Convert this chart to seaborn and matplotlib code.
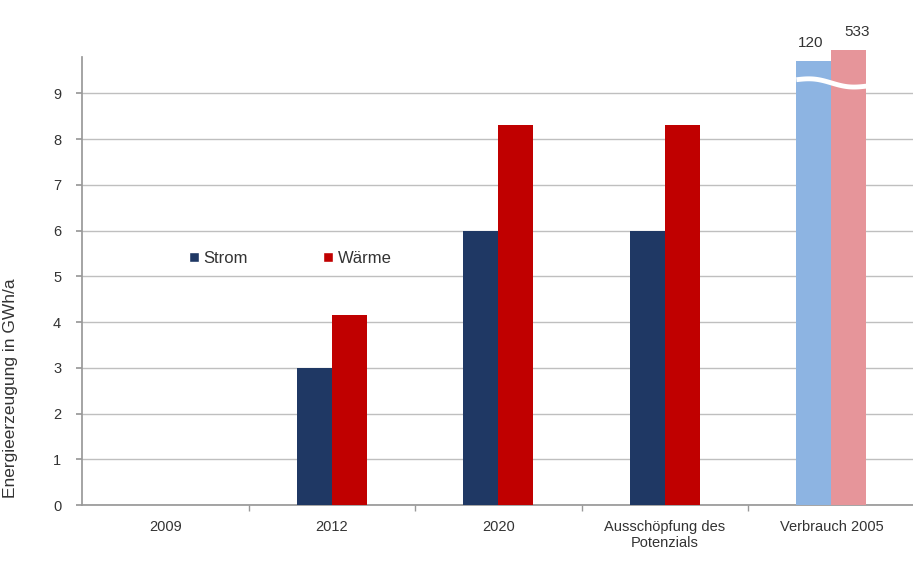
import numpy as np
import pandas as pd
import matplotlib
matplotlib.use("Agg")
import matplotlib.pyplot as plt
import seaborn as sns

categories = ["2009", "2012", "2020", "Ausschöpfung des\nPotenzials", "Verbrauch 2005"]
strom = [0.0, 3.0, 6.0, 6.0, 120.0]
waerme = [0.0, 4.15, 8.3, 8.3, 533.0]
# drawn height for the broken (off-scale) bars of the last category
broken_top_strom = 9.7
broken_top_waerme = 9.95
series = ["Strom", "Wärme"]
yticks = list(range(0, 10))

sns.set_theme(style="white")
plt.rcParams["font.family"] = ["Liberation Sans", "DejaVu Sans"]

def shown(v, cap):
    return v if v < 10 else cap

rows = []
for c, s, w in zip(categories, strom, waerme):
    rows.append({"cat": c, "serie": "Strom", "val": shown(s, broken_top_strom)})
    rows.append({"cat": c, "serie": "Wärme", "val": shown(w, broken_top_waerme)})
df = pd.DataFrame(rows)

fig = plt.figure(figsize=(9.13, 5.63), dpi=100)
ax = fig.add_axes([0.0898, 0.103, 0.912, 0.796])

sns.barplot(data=df, x="cat", y="val", hue="serie", order=categories,
            hue_order=series, palette=["#1F3864", "#C00000"], width=0.42,
            saturation=1, ax=ax, zorder=3)

# recolour off-scale bars of last category and disable clipping
light = {0: "#8DB4E2", 1: "#E6959A"}
for i, cont in enumerate(ax.containers):
    for j, p in enumerate(cont.patches):
        p.set_clip_on(False)
        p.set_edgecolor("none")
        if j == len(categories) - 1:
            p.set_facecolor(light[i])

# white wavy break through last bars
last_s = ax.containers[0].patches[-1]
last_w = ax.containers[1].patches[-1]
x0 = last_s.get_x()
x1 = last_w.get_x() + last_w.get_width()
xs = np.linspace(x0, x1, 60)
t = (xs - x0) / (x1 - x0)
ys = 9.30 - 0.14 * t + 0.05 * np.sin(2 * np.pi * t)
ax.plot(xs, ys, color="white", lw=3.5, zorder=4, clip_on=False, solid_capstyle="butt")

# value labels above the broken bars
ax.text(last_s.get_x() + last_s.get_width() / 2 - 0.02, broken_top_strom + 0.25,
        f"{strom[-1]:.0f}", ha="center", va="bottom", fontsize=11, color="#333333")
ax.text(last_w.get_x() + last_w.get_width() / 2 + 0.05, broken_top_waerme + 0.25,
        f"{waerme[-1]:.0f}", ha="center", va="bottom", fontsize=11, color="#333333")

ax.set_ylim(0, 9.8)
ax.set_xlim(-0.5, len(categories) - 0.5)
ax.set_yticks(yticks)
ax.set_yticklabels([str(v) for v in yticks], fontsize=10.5, color="#333333")
ax.yaxis.grid(True, color="#BFBFBF", lw=1, zorder=0)
ax.set_axisbelow(True)

ax.set_xticks(range(len(categories)))
ax.set_xticklabels(categories, fontsize=10.5, color="#333333")
ax.tick_params(axis="x", length=0, pad=11)
ax.tick_params(axis="y", length=4, color="#999999", left=True, pad=11)
# minor ticks at category boundaries
ax.set_xticks(np.arange(0.5, len(categories) - 0.5, 1.0), minor=True)
ax.tick_params(axis="x", which="minor", length=4, color="#999999", bottom=True)

ax.set_xlabel("")
ax.set_ylabel("Energieerzeugung in GWh/a", fontsize=12.5, color="#333333")
ax.yaxis.set_label_coords(-0.077, 0.26)

for side in ["top", "right"]:
    ax.spines[side].set_visible(False)
ax.spines["left"].set_color("#999999")
ax.spines["bottom"].set_color("#999999")

leg = ax.legend(loc="center left", bbox_to_anchor=(0.11, 0.55), ncol=2,
                frameon=False, handlelength=0.6, handleheight=0.6,
                handletextpad=0.3, columnspacing=4.5, fontsize=12)
for txt in leg.get_texts():
    txt.set_color("#333333")

fig.savefig("out.png", dpi=100)
